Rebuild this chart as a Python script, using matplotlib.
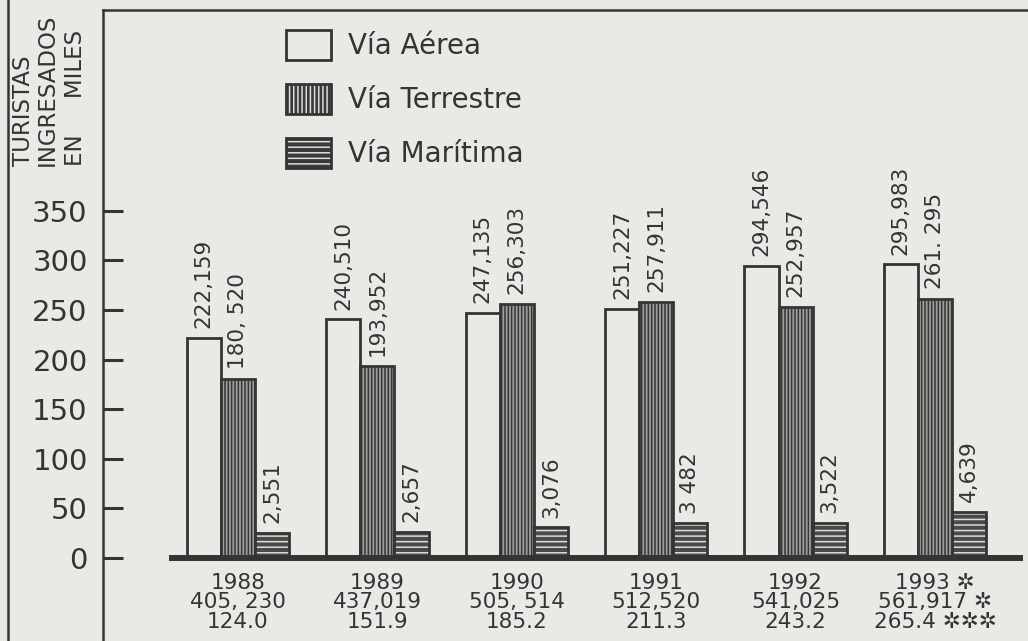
import matplotlib
matplotlib.use("Agg")
import matplotlib.pyplot as plt
from matplotlib.patches import Patch
from matplotlib.lines import Line2D
import numpy as np

# ---- data (tourist arrivals, thousands) ----
years = ["1988", "1989", "1990", "1991", "1992", "1993 ✲"]
totals = ["405, 230", "437,019", "505, 514", "512,520", "541,025", "561,917 ✲"]
third_row = ["124.0", "151.9", "185.2", "211.3", "243.2", "265.4 ✲✲✲"]

aerea = [222.159, 240.510, 247.135, 251.227, 294.546, 295.983]
terrestre = [180.520, 193.952, 256.303, 257.911, 252.957, 261.295]
maritima = [2.551, 2.657, 3.076, 3.482, 3.522, 4.639]

aerea_labels = ["222,159", "240,510", "247,135", "251,227", "294,546", "295,983"]
terrestre_labels = ["180, 520", "193,952", "256,303", "257,911", "252,957", "261. 295"]
maritima_labels = ["2,551", "2,657", "3,076", "3 482", "3,522", "4,639"]

series_names = ["Vía Aérea", "Vía Terrestre", "Vía Marítima"]
yticks = [0, 50, 100, 150, 200, 250, 300, 350]
y_title = ["TURISTAS", "INGRESADOS", "EN     MILES"]

# ---- style ----
BG = "#e9e9e5"
INK = "#343434"
LW = 2.0
W, H, DPI = 1028, 641, 100
plt.rcParams["font.family"] = ["DejaVu Sans"]
plt.rcParams["hatch.linewidth"] = 1.1

fig = plt.figure(figsize=(W / DPI, H / DPI), dpi=DPI, facecolor=BG)
ax = fig.add_axes([103 / W, 0, (W - 103) / W, (H - 10) / H])
ax.set_facecolor(BG)
ax.set_xlim(-0.968, 5.667)
ax.set_ylim(-83.7, 552.4)

for side in ("right", "bottom"):
    ax.spines[side].set_visible(False)
for side in ("left", "top"):
    ax.spines[side].set_linewidth(1.8)
    ax.spines[side].set_color(INK)

ax.set_yticks(yticks)
ax.tick_params(axis="y", direction="in", length=14.4, width=2.2, pad=11,
               labelsize=21, colors=INK)
ax.tick_params(axis="x", bottom=False, labelbottom=False)

# sea arrivals are drawn on their own, enlarged scale
ax2 = ax.twinx()
lo, hi = ax.get_ylim()
ax2.set_ylim(lo / 10, hi / 10)
ax2.axis("off")

x = np.arange(len(years))
w = 0.245

ax.bar(x - w, aerea, w, facecolor=BG, edgecolor=INK, linewidth=LW, zorder=2)
ax.bar(x, terrestre, w, facecolor="#9e9e9b", edgecolor="#363636",
       hatch="|||||", linewidth=LW, zorder=2)
ax2.bar(x + w, maritima, w, facecolor="#4a4a4a", edgecolor="#dcdcd8",
        hatch="---", linewidth=0, zorder=2)
ax2.bar(x + w, maritima, w, fill=False, edgecolor=INK, linewidth=LW, zorder=3)

# ground line
ax2.axhline(0, xmin=0.0746, xmax=0.991, color=INK, linewidth=4.3, zorder=4)

# value labels above bars
lab_kw = dict(textcoords="offset points", rotation=90, ha="center",
              va="bottom", fontsize=15.5, color=INK)
for xi, v, t in zip(x - w, aerea, aerea_labels):
    ax.annotate(t, (xi, v), xytext=(0, 7), **lab_kw)
for xi, v, t in zip(x, terrestre, terrestre_labels):
    ax.annotate(t, (xi, v), xytext=(0, 7), **lab_kw)
for xi, v, t in zip(x + w, maritima, maritima_labels):
    ax2.annotate(t, (xi, v), xytext=(0, 7), **lab_kw)

# category rows under the ground line
for xi, a, b, c in zip(x, years, totals, third_row):
    ax.text(xi, -25.2, a, ha="center", va="center", fontsize=15.5, color=INK)
    ax.text(xi, -44.6, b, ha="center", va="center", fontsize=15.5, color=INK)
    ax.text(xi, -64.8, c, ha="center", va="center", fontsize=15.5, color=INK)

# legend
h_a = Patch(facecolor=BG, edgecolor=INK, linewidth=LW)
h_t = (Patch(facecolor="#3a3a3a", edgecolor="#dcdcd8", hatch="||||", linewidth=0),
       Patch(fill=False, edgecolor=INK, linewidth=LW))
h_m = (Patch(facecolor="#3a3a3a", edgecolor="#dcdcd8", hatch="---", linewidth=0),
       Patch(fill=False, edgecolor=INK, linewidth=LW))
leg = fig.legend([h_a, h_t, h_m], series_names, loc="upper left",
                 bbox_to_anchor=(286 / W, 1 - 30 / H), frameon=False,
                 fontsize=20, handlelength=1.62, handleheight=1.26,
                 handletextpad=0.6, labelspacing=0.86, borderpad=0,
                 borderaxespad=0)
for t in leg.get_texts():
    t.set_color(INK)

# vertical axis title
for xc, t in zip([24, 47, 76], y_title):
    fig.text(xc / W, 1 - 166 / H, t, rotation=90, ha="center", va="bottom",
             fontsize=16.5, color=INK)

# outer frame line
fig.add_artist(Line2D([8 / W, 8 / W], [0, 1], color=INK, linewidth=1.8))

fig.savefig("out.png", dpi=DPI, facecolor=BG)
